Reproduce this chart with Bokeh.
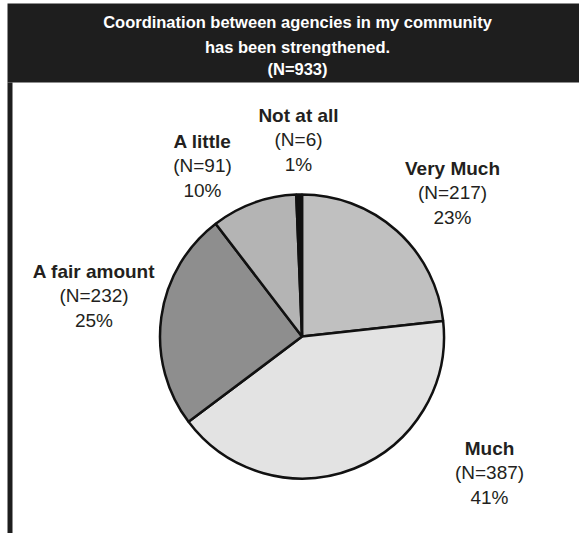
import math
from bokeh.plotting import figure
from bokeh.models import Range1d, ColumnDataSource
from bokeh.core.properties import value
from bokeh.embed import file_html
from bokeh.resources import INLINE

# ---------------- data ----------------
title_lines = ["Coordination between agencies in my community",
               "has been strengthened.",
               "(N=933)"]
categories = ["Very Much", "Much", "A fair amount", "A little", "Not at all"]
counts = [217, 387, 232, 91, 6]
total = sum(counts)

# ---------------- style / layout ----------------
W, H = 579, 533
slice_colors = ["#c0c0c0", "#e3e3e3", "#8e8e8e", "#b4b4b4", "#111111"]
text_color = "#231f20"
header_color = "#1e1e1e"
pie_cx, pie_cy, pie_r = 301.5, H - 336, 142
# label block centre offsets from pie centre (screen px, y up)
label_offsets = [(150.5, 144), (187.5, -136), (-208, 41), (-99.5, 171), (-3.5, 197)]
line_gap = 24.5

p = figure(width=W, height=H, output_backend="svg", toolbar_location=None,
           x_range=Range1d(0, W), y_range=Range1d(0, H), min_border=0)
p.axis.visible = False
p.grid.visible = False
p.outline_line_color = None
p.background_fill_color = "white"
p.border_fill_color = "white"

# header band and left frame line
p.quad(left=7, right=W, top=H - 3, bottom=H - 82, fill_color=header_color, line_color=None)
p.quad(left=7, right=12, top=H - 82, bottom=0, fill_color=header_color, line_color=None)

title_mid = [21.5, 46, 68]
p.text(x=[297] * 3, y=[H - b for b in title_mid], text=title_lines,
       text_color="white", text_font=value("Liberation Sans"),
       text_font_style="bold", text_font_size="16.5px",
       text_align="center", text_baseline="middle")

# pie wedges (start at 12 o'clock, clockwise)
starts, ends = [], []
cum = 0
for c in counts:
    starts.append(math.pi / 2 - 2 * math.pi * cum / total)
    cum += c
    ends.append(math.pi / 2 - 2 * math.pi * cum / total)

src = ColumnDataSource(dict(start=starts, end=ends, color=slice_colors, cat=categories))
p.wedge(x=pie_cx, y=pie_cy, radius=pie_r, start_angle="start", end_angle="end",
        direction="clock", fill_color="color", line_color="#111111", line_width=2.5,
        source=src)

# labels
names_x, names_y, n_txt, n_y, pct_txt, pct_y = [], [], [], [], [], []
for cat, c, (dx, dy) in zip(categories, counts, label_offsets):
    x = pie_cx + dx
    ym = pie_cy + dy
    names_x.append(x)
    names_y.append(ym + line_gap)
    n_txt.append(f"(N={c})")
    n_y.append(ym)
    pct_txt.append(f"{round(100 * c / total)}%")
    pct_y.append(ym - line_gap)

p.text(x=names_x, y=names_y, text=categories, text_color=text_color,
       text_font=value("Liberation Sans"), text_font_style="bold",
       text_font_size="19px", text_align="center", text_baseline="middle")
p.text(x=names_x, y=n_y, text=n_txt, text_color=text_color,
       text_font=value("Liberation Sans"), text_font_size="19px",
       text_align="center", text_baseline="middle")
p.text(x=names_x, y=pct_y, text=pct_txt, text_color=text_color,
       text_font=value("Liberation Sans"), text_font_size="19px",
       text_align="center", text_baseline="middle")

open("out.html", "w").write(file_html(p, INLINE))
